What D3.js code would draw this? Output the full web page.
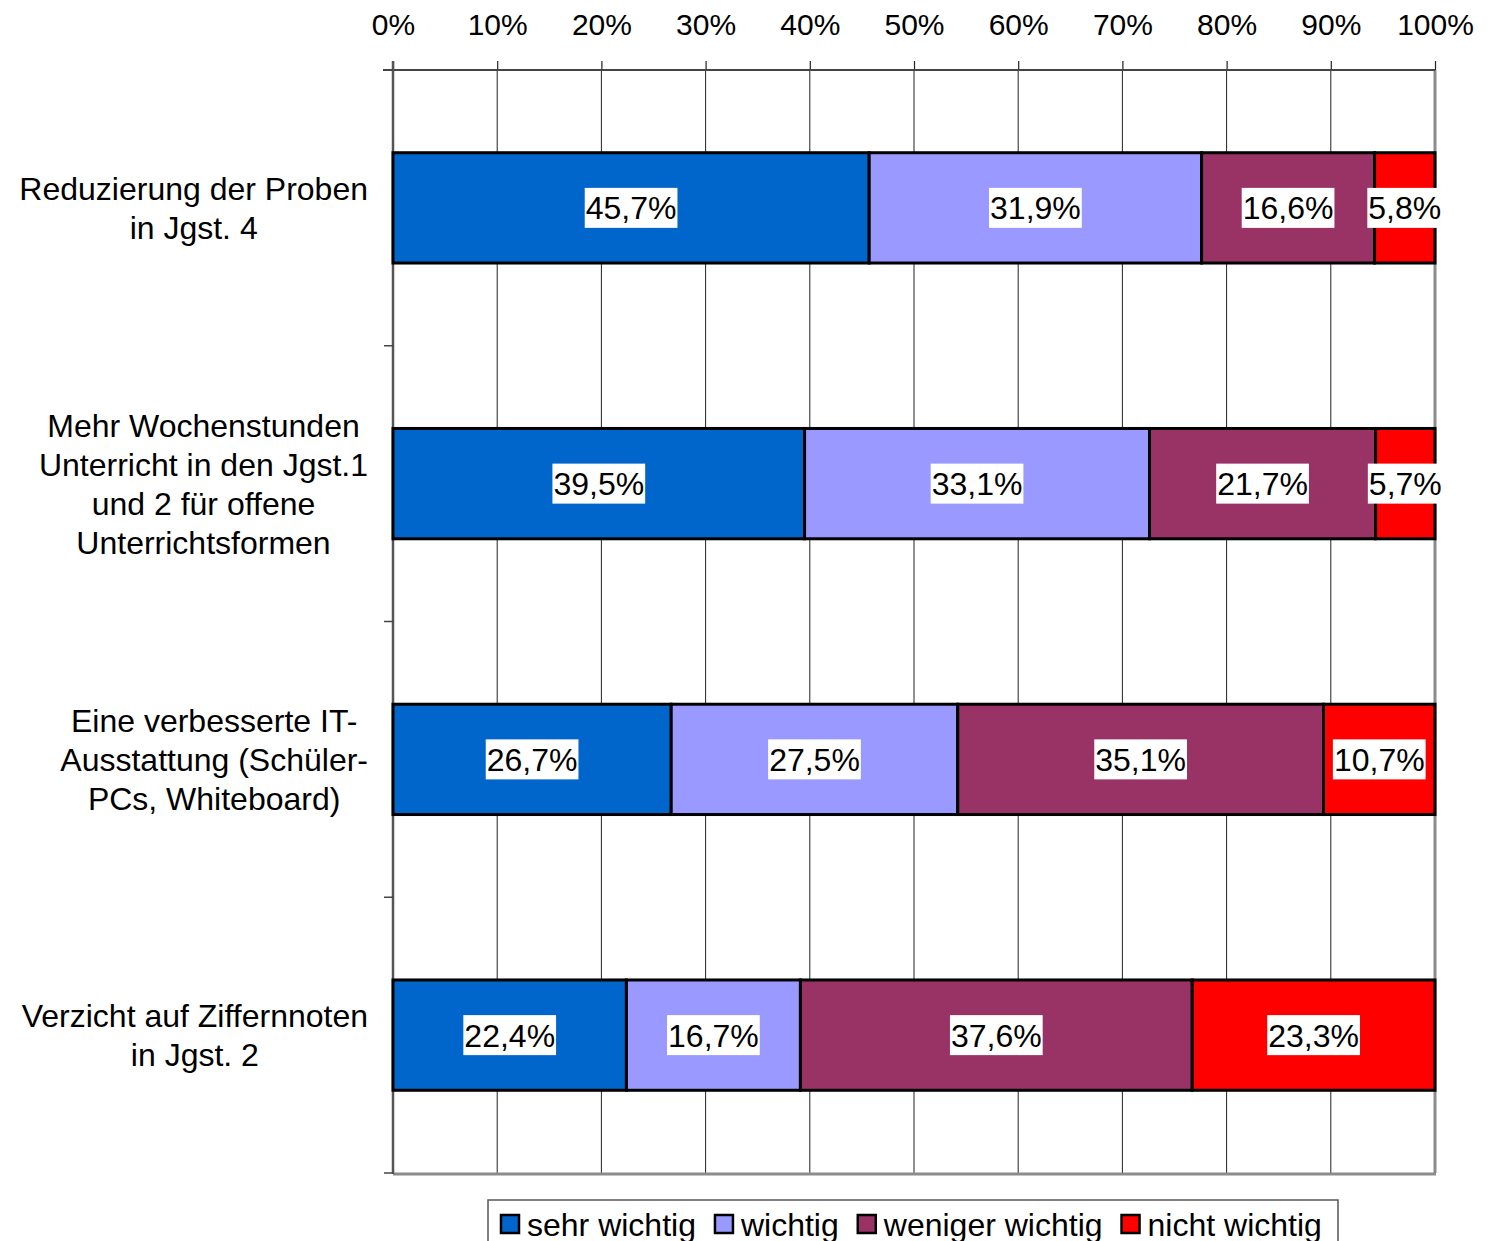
<!DOCTYPE html>
<html>
<head>
<meta charset="utf-8">
<script src="https://cdn.jsdelivr.net/npm/d3@7"></script>
<style>
  body { margin: 0; background: #fff; }
  text { font-family: "Liberation Sans", Arial, sans-serif; fill: #000; }
</style>
</head>
<body>
<svg id="chart" width="1492" height="1241"></svg>
<script>
// data
var categories = [
  ["Reduzierung der Proben", "in Jgst. 4"],
  ["Mehr Wochenstunden", "Unterricht in den Jgst.1", "und 2 für offene", "Unterrichtsformen"],
  ["Eine verbesserte IT-", "Ausstattung (Schüler-", "PCs, Whiteboard)"],
  ["Verzicht auf Ziffernnoten", "in Jgst. 2"]
];
var seriesNames = ["sehr wichtig", "wichtig", "weniger wichtig", "nicht wichtig"];
var sehrWichtig    = [45.7, 39.5, 26.7, 22.4];
var wichtig        = [31.9, 33.1, 27.5, 16.7];
var wenigerWichtig = [16.6, 21.7, 35.1, 37.6];
var nichtWichtig   = [5.8, 5.7, 10.7, 23.3];
var xTicks = [0, 10, 20, 30, 40, 50, 60, 70, 80, 90, 100];

var colors = ["#0066CC", "#9999FF", "#993366", "#FF0000"];
var series = [sehrWichtig, wichtig, wenigerWichtig, nichtWichtig];

var svg = d3.select("#chart");
var pLeft = 393, pRight = 1435, pTop = 70, pBottom = 1173;

var x = d3.scaleLinear().domain([0, 100]).range([pLeft, pRight]);
var y = d3.scaleBand().domain(d3.range(categories.length)).range([pTop, pBottom]).paddingInner(0.6).paddingOuter(0.3);
var yb = d3.scaleBand().domain(d3.range(categories.length)).range([pTop, pBottom]);

// gridlines
svg.append("g").selectAll("line")
    .data(xTicks.slice(1, -1))
    .join("line")
    .attr("x1", d => x(d)).attr("x2", d => x(d))
    .attr("y1", pTop).attr("y2", pBottom)
    .attr("stroke", "#222").attr("stroke-width", 1);

// plot border (right + bottom grey)
svg.append("line").attr("x1", pRight).attr("x2", pRight).attr("y1", pTop).attr("y2", pBottom)
    .attr("stroke", "#8c8c8c").attr("stroke-width", 3);
svg.append("line").attr("x1", pLeft).attr("x2", pRight + 1).attr("y1", pBottom + 1).attr("y2", pBottom + 1)
    .attr("stroke", "#8c8c8c").attr("stroke-width", 3);

// top axis
var xAxis = d3.axisTop(x).tickValues(xTicks).tickFormat(d => d + "%").tickSize(9).tickPadding(26);
var gx = svg.append("g").attr("transform", "translate(0," + pTop + ")").call(xAxis);
gx.select(".domain").remove();
gx.selectAll(".tick line").attr("stroke", "#222").attr("stroke-width", 1.2);
gx.selectAll(".tick text").attr("font-size", 30).attr("font-family", "Liberation Sans, Arial, sans-serif").attr("fill", "#000");
svg.append("line").attr("x1", 383).attr("x2", pRight).attr("y1", pTop).attr("y2", pTop)
    .attr("stroke", "#444").attr("stroke-width", 2);

// left axis with category boundary ticks
svg.append("line").attr("x1", pLeft).attr("x2", pLeft).attr("y1", pTop - 9).attr("y2", pBottom + 1)
    .attr("stroke", "#555").attr("stroke-width", 2.5);
svg.append("g").selectAll("line")
    .data(d3.range(categories.length + 1))
    .join("line")
    .attr("x1", 384).attr("x2", pLeft)
    .attr("y1", d => d < categories.length ? yb(d) : pBottom)
    .attr("y2", d => d < categories.length ? yb(d) : pBottom)
    .attr("stroke", "#444").attr("stroke-width", 1.5);

// stacked bars
var rows = categories.map((c, i) => {
    var acc = 0;
    return series.map((s, k) => {
        var seg = {row: i, k: k, x0: acc, x1: acc + s[i], v: s[i]};
        acc += s[i];
        return seg;
    });
});
var segs = rows.flat();

svg.append("g").selectAll("rect")
    .data(segs)
    .join("rect")
    .attr("x", d => x(d.x0))
    .attr("width", d => x(d.x1) - x(d.x0))
    .attr("y", d => y(d.row))
    .attr("height", y.bandwidth())
    .attr("fill", d => colors[d.k])
    .attr("stroke", "#000").attr("stroke-width", 3);

// data labels with white boxes
var lab = svg.append("g").selectAll("g")
    .data(segs)
    .join("g")
    .attr("transform", d => "translate(" + x((d.x0 + d.x1) / 2) + "," + (y(d.row) + y.bandwidth() / 2) + ")");
lab.append("rect").attr("fill", "#fff");
lab.append("text")
    .attr("text-anchor", "middle")
    .attr("dy", "0.36em")
    .attr("font-size", 32)
    .text(d => d.v.toFixed(1).replace(".", ",") + "%");
lab.each(function() {
    var g = d3.select(this);
    var w = g.select("text").node().getComputedTextLength();
    g.select("rect").attr("x", -w / 2 - 1).attr("width", w + 2).attr("y", -20).attr("height", 40);
});

// category labels, block right-aligned, lines centered
var lineH = 39;
categories.forEach((lines, i) => {
    var cy = yb(i) + yb.bandwidth() / 2;
    var g = svg.append("g");
    var t = g.selectAll("text").data(lines).join("text")
        .attr("font-size", 32)
        .attr("text-anchor", "middle")
        .attr("y", (d, j) => cy + (j - (lines.length - 1) / 2) * lineH)
        .attr("dy", "0.36em")
        .text(d => d);
    var maxW = d3.max(t.nodes(), n => n.getComputedTextLength());
    t.attr("x", 368 - maxW / 2);
});

// legend
var leg = svg.append("g").attr("transform", "translate(488,1200)");
leg.append("rect").attr("x", 0).attr("y", 0).attr("width", 850).attr("height", 60)
    .attr("fill", "#fff").attr("stroke", "#555").attr("stroke-width", 1.5);
var lx = 12;
seriesNames.forEach((n, k) => {
    var item = leg.append("g").attr("transform", "translate(" + lx + ",0)");
    item.append("rect").attr("x", 1).attr("y", 15).attr("width", 18).attr("height", 18)
        .attr("fill", colors[k]).attr("stroke", "#000").attr("stroke-width", 2.5);
    var t = item.append("text").attr("x", 27).attr("y", 24).attr("dy", "0.36em")
        .attr("font-size", 32).text(n);
    lx += 27 + t.node().getComputedTextLength() + 18;
});
</script>
</body>
</html>
